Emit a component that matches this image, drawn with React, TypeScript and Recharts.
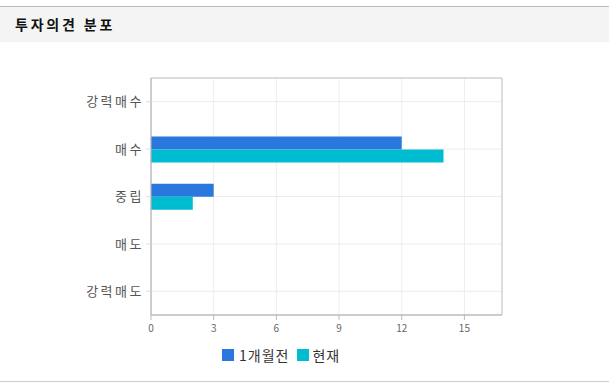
import React from "react";
import {
  Bar,
  BarChart,
  CartesianGrid,
  ReferenceArea,
  XAxis,
  YAxis,
} from "recharts";

const categories = ["강력매수", "매수", "중립", "매도", "강력매도"];
const monthAgo = [0, 12, 3, 0, 0];
const current = [0, 14, 2, 0, 0];
const xTicks = [0, 3, 6, 9, 12, 15];

const data = categories.map((name, i) => ({
  name,
  monthAgo: monthAgo[i],
  current: current[i],
}));

const BLUE = "#2a78de";
const CYAN = "#00bcd0";
const FONT = "'Noto Sans CJK KR', 'Noto Sans', sans-serif";

export default function App() {
  return (
    <div
      style={{
        position: "absolute",
        left: 0,
        top: 0,
        width: 609,
        height: 387,
        background: "#fff",
        fontFamily: FONT,
      }}
    >
      <div
        style={{
          position: "absolute",
          left: 0,
          top: 6,
          width: 609,
          height: 36,
          borderTop: "1px solid #bbbbbb",
          background: "#f4f4f4",
          boxSizing: "border-box",
        }}
      >
        <span
          style={{
            position: "absolute",
            left: 15,
            top: 7,
            fontSize: 14,
            fontWeight: 700,
            letterSpacing: 2.8,
            color: "#111",
          }}
        >
          투자의견 분포
        </span>
      </div>
      <div
        style={{
          position: "absolute",
          left: 0,
          top: 381,
          width: 609,
          height: 1,
          background: "#cccccc",
        }}
      />
      <div style={{ position: "absolute", left: 0, top: 0 }}>
        <BarChart
          width={609}
          height={387}
          data={data}
          layout="vertical"
          margin={{ top: 78, right: 107, left: 71, bottom: 42 }}
          barSize={13}
          barGap={0}
        >
          <CartesianGrid stroke="#ececec" />
          <XAxis
            type="number"
            domain={[0, 16.8]}
            ticks={xTicks}
            height={30}
            tickSize={5}
            tickMargin={5}
            tick={{ fill: "#666", fontSize: 10, fontFamily: FONT }}
            axisLine={{ stroke: "#bbbbbb" }}
            tickLine={{ stroke: "#bbbbbb" }}
          />
          <YAxis
            type="category"
            dataKey="name"
            width={80}
            tickSize={5}
            tickMargin={2}
            tick={{
              fill: "#555",
              fontSize: 13,
              fontFamily: FONT,
              letterSpacing: 2.5,
            }}
            axisLine={{ stroke: "#bbbbbb" }}
            tickLine={{ stroke: "#dddddd" }}
          />
          <ReferenceArea x1={0} x2={16.8} fill="none" stroke="#c4c4c4" />
          <Bar
            dataKey="monthAgo"
            name="1개월전"
            fill={BLUE}
            isAnimationActive={false}
          />
          <Bar
            dataKey="current"
            name="현재"
            fill={CYAN}
            isAnimationActive={false}
          />
        </BarChart>
      </div>
      <div
        style={{
          position: "absolute",
          left: 222,
          top: 345,
          display: "flex",
          alignItems: "center",
          fontSize: 14,
          letterSpacing: 1,
          color: "#333",
        }}
      >
        <span style={{ width: 12, height: 12, background: BLUE, marginRight: 5 }} />
        <span style={{ marginRight: 8 }}>1개월전</span>
        <span style={{ width: 12, height: 12, background: CYAN, marginRight: 3 }} />
        <span>현재</span>
      </div>
    </div>
  );
}
